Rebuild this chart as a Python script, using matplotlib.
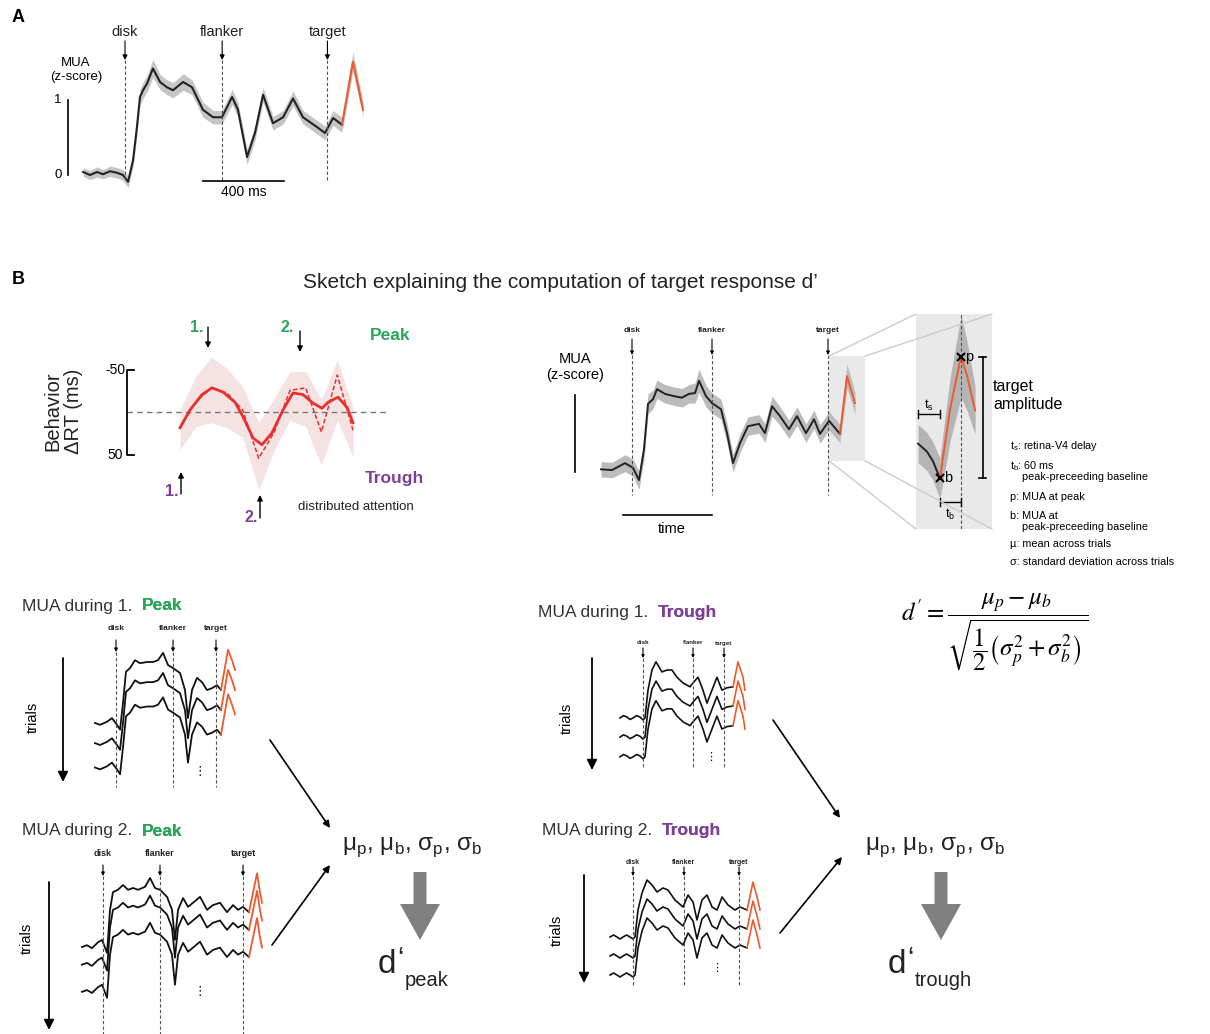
import numpy as np
import matplotlib.pyplot as plt
import matplotlib.transforms as mtransforms
from matplotlib.patches import Rectangle, FancyArrow, FancyArrowPatch, ConnectionPatch

# ---------------- data ----------------
# A: mean MUA (z-score) vs time from disk onset (ms)
a_t = [-207, -173, -138, -109, -74, -40, -10, 15, 40, 59, 74, 89, 109, 138, 173, 207, 237, 287, 331,
       385, 435, 479, 529, 558, 603, 642, 682, 731, 781, 830, 879, 948, 988, 1028, 1072]
a_z = [0.04, 0.00, 0.04, 0.01, 0.05, 0.03, 0.00, -0.09, 0.20, 0.64, 1.04, 1.13, 1.22, 1.42, 1.24, 1.17, 1.13, 1.24, 1.17,
       0.87, 0.77, 0.77, 1.04, 0.87, 0.24, 0.56, 1.07, 0.69, 0.77, 1.02, 0.77, 0.64, 0.56, 0.76, 0.67]
a_sem = [0.06, 0.06, 0.07, 0.06, 0.07, 0.07, 0.07, 0.08, 0.09, 0.10, 0.10, 0.11, 0.11, 0.12, 0.10, 0.10, 0.10, 0.11, 0.10,
         0.10, 0.09, 0.09, 0.10, 0.10, 0.10, 0.10, 0.10, 0.09, 0.09, 0.10, 0.09, 0.09, 0.09, 0.10, 0.10]
a_tgt_t = [1072, 1126, 1176]
a_tgt_z = [0.67, 1.51, 0.87]
a_tgt_sem = [0.10, 0.13, 0.10]
a_events = [0, 480, 1000]
event_names = ['disk', 'flanker', 'target']

# B, behaviour: delta RT (ms) vs flanker-target time (ms)
beh_t = [0, 30, 66, 96, 129, 165, 189, 219, 246, 276, 309, 339, 369, 399, 426, 444, 474, 501, 519]
beh_rt = [18, -3, -21, -29, -24, -12, 5, 30, 38, 24, -3, -23, -21, -11, -5, -12, -18, -6, 12]
beh_raw_t = [0, 47, 94, 141, 188, 236, 283, 330, 377, 424, 472, 519]
beh_raw_rt = [18, -12, -29, -23, -3, 54, 23, -26, -29, 23, -44, 21]
beh_hi = [-3, -42, -65, -52, -30, 12, -17, -48, -48, -15, -62, -6]
beh_lo = [44, 17, 12, 18, 29, 91, 44, 9, 17, 62, 9, 52]

# B, sketch MUA
b_t = [-186, -120, -42, 6, 42, 72, 96, 126, 150, 198, 252, 300, 342, 378, 402, 444, 480,
       534, 570, 606, 648, 696, 762, 798, 840, 888, 942, 990, 1044, 1092, 1128, 1182, 1248]
b_z = [-0.03, -0.04, 0.05, -0.01, -0.17, 0.23, 0.82, 0.88, 1.01, 0.95, 0.92, 0.90, 0.95, 0.96, 1.12, 0.92, 0.83,
       0.75, 0.44, 0.05, 0.31, 0.53, 0.56, 0.44, 0.79, 0.66, 0.49, 0.66, 0.44, 0.62, 0.43, 0.60, 0.43]
b_sem = [0.10, 0.10, 0.11, 0.11, 0.12, 0.13, 0.13, 0.12, 0.12, 0.12, 0.12, 0.12, 0.12, 0.13, 0.15, 0.14, 0.13,
         0.13, 0.13, 0.12, 0.12, 0.12, 0.12, 0.12, 0.13, 0.12, 0.12, 0.12, 0.12, 0.12, 0.12, 0.12, 0.12]
b_tgt_t = [1248, 1290, 1338]
b_tgt_z = [0.43, 1.18, 0.83]
b_tgt_sem = [0.12, 0.16, 0.14]
b_events = [0, 480, 1176]
zoom_tlim = (1182, 1398)
zoom_zlim = (0.08, 1.44)

# zoomed view of target response
zm_t = [1188, 1213, 1230, 1250]
zm_z = [0.62, 0.57, 0.51, 0.40]
zm_sem = [0.12, 0.12, 0.12, 0.13]
zm_tgt_t = [1250, 1279, 1310, 1327, 1350]
zm_tgt_z = [0.40, 0.84, 1.17, 1.05, 0.83]
zm_tgt_sem = [0.13, 0.20, 0.26, 0.22, 0.15]

# single trials, MUA during 1. peak
p1_t = [-177, -135, -76, -34, 8, 34, 59, 84, 118, 160, 202, 261, 312, 354, 396, 438, 480,
        539, 581, 606, 640, 682, 724, 766, 808, 851, 884]
p1_z = [0, -0.03, 0.02, 0.08, -0.03, -0.11, 0.33, 0.84, 0.90, 1.03, 0.98, 1.00, 1.00, 1.03, 1.15, 0.95, 0.90,
        0.82, 0.54, 0.08, 0.54, 0.74, 0.67, 0.54, 0.57, 0.62, 0.54]
p1_tgt_t = [884, 943, 977, 1002]
p1_tgt_z = [0.54, 1.20, 1.03, 0.87]
p1_offs = [0, -0.33, -0.73]
p1_events = [0, 480, 842]

# MUA during 2. peak
p2_t = [-177, -135, -93, -42, -8, 34, 59, 84, 126, 168, 211, 253, 295, 354, 396, 438, 480,
        539, 581, 606, 632, 674, 716, 758, 817, 876, 926, 985, 1044, 1095, 1137, 1179, 1229]
p2_z = [0, 0.03, -0.02, 0.08, 0.12, -0.10, 0.63, 0.93, 0.97, 1.05, 0.97, 1.00, 0.97, 1.02, 1.17, 1.00, 0.97,
        0.85, 0.63, 0.12, 0.63, 0.83, 0.68, 0.75, 0.85, 0.63, 0.71, 0.75, 0.59, 0.71, 0.63, 0.68, 0.59]
p2_tgt_t = [1229, 1297, 1322, 1339]
p2_tgt_z = [0.59, 1.25, 0.92, 0.75]
p2_offs = [0, -0.30, -0.76]
p2_events = [0, 480, 1179]

# MUA during 1. trough
t1_t = [-221, -188, -154, -125, -96, -62, -29, 0, 19, 48, 86, 125, 182, 230, 278, 326, 384, 451, 480,
        528, 576, 614, 662, 710, 758, 806, 864]
t1_z = [0, 0.05, 0.02, -0.03, 0, 0.05, 0.02, -0.04, 0, 0.58, 1.0, 1.17, 0.96, 1.0, 1.0, 0.85, 0.73, 0.65, 0.73,
        0.85, 0.58, 0.31, 0.58, 0.85, 0.58, 0.63, 0.65]
t1_tgt_t = [864, 912, 960, 979]
t1_tgt_z = [0.65, 1.17, 0.85, 0.58]
t1_offs = [0, -0.40, -0.81]
t1_events = [0, 480, 778]

# MUA during 2. trough
t2_t = [-216, -183, -151, -122, -94, -60, -28, 0, 19, 47, 85, 132, 179, 226, 282, 329, 395, 471, 518, 565,
        602, 649, 696, 744, 791, 838, 894, 960, 1007, 1073]
t2_z = [0, 0.04, 0.0, -0.04, 0, 0.04, 0.0, -0.04, 0, 0.54, 0.88, 1.14, 1.04, 0.90, 0.98, 0.94, 0.74, 0.60, 0.84, 0.70,
        0.34, 0.74, 0.84, 0.60, 0.54, 0.80, 0.64, 0.54, 0.60, 0.54]
t2_tgt_t = [1073, 1129, 1167, 1195]
t2_tgt_z = [0.54, 1.10, 0.80, 0.54]
t2_offs = [0, -0.38, -0.76]
t2_events = [0, 480, 998]

# ---------------- figure ----------------
plt.rcParams['font.family'] = ['Liberation Sans', 'DejaVu Sans']
plt.rcParams['lines.solid_joinstyle'] = 'round'

W, H = 1210, 1034
fig = plt.figure(figsize=(W / 100, H / 100), dpi=100)
# pixel coordinates, origin top-left
PX = mtransforms.Affine2D().scale(1.0 / W, -1.0 / H).translate(0, 1) + fig.transFigure

GREEN = '#2aa55a'
PURPLE = '#7e3f98'
ORANGE = '#ee5a2b'
RED = '#e8302f'
DARK = '#333333'


def txt(x, y, s, **kw):
    kw.setdefault('ha', 'center')
    kw.setdefault('va', 'center')
    return fig.text(x, y, s, transform=PX, **kw)


def arrow(x0, y0, x1, y1, lw=1.0, ms=9, color='k'):
    fig.add_artist(FancyArrowPatch((x0, y0), (x1, y1), transform=PX, arrowstyle='-|>',
                                   mutation_scale=ms, lw=lw, color=color, shrinkA=0, shrinkB=0))


def line(xs, ys, **kw):
    fig.add_artist(plt.Line2D(xs, ys, transform=PX, **kw))


def panel(x0, x1, y0, y1, xlim, ylim):
    ax = fig.add_axes([x0 / W, 1 - y1 / H, (x1 - x0) / W, (y1 - y0) / H])
    ax.set_xlim(*xlim)
    ax.set_ylim(*ylim)
    ax.axis('off')
    return ax


def trace_panel(x0, x1, y0, y1, xd, ms_px, yb, px_z):
    # xd: pixel of time 0, yb: pixel of z = 0
    return panel(x0, x1, y0, y1, ((x0 - xd) * ms_px, (x1 - xd) * ms_px),
                 ((yb - y1) / px_z, (yb - y0) / px_z))


def mark_events(ax, times, ylab, ya0, ya1, yend, fs, ms=6, bold=False):
    tr = mtransforms.blended_transform_factory(ax.transData, PX)
    for t, n in zip(times, event_names):
        ax.text(t, ylab, n, transform=tr, ha='center', va='center', fontsize=fs, clip_on=False,
                fontweight='bold' if bold else 'normal', color='#222222')
        ax.annotate('', xy=(t, ya1), xytext=(t, ya0), xycoords=tr, textcoords=tr,
                    arrowprops=dict(arrowstyle='-|>', lw=0.8, color='k', mutation_scale=ms,
                                    shrinkA=0, shrinkB=0), annotation_clip=False)
        ax.plot([t, t], [ya1, yend], transform=tr, color='#555555', lw=0.8,
                ls=(0, (3, 2)), clip_on=False)


def draw_mean(ax, t, z, sem, t2, z2, sem2, band='#c6c6c6', lw=1.5):
    t, z, sem = np.array(t), np.array(z), np.array(sem)
    t2, z2, sem2 = np.array(t2), np.array(z2), np.array(sem2)
    ax.fill_between(t, z - sem, z + sem, color=band, lw=0)
    ax.fill_between(t2, z2 - sem2, z2 + sem2, color=band, lw=0)
    ax.plot(t, z, color='#222222', lw=lw)
    ax.plot(t2, z2, color=ORANGE, lw=lw)


def draw_trials(ax, t, z, t2, z2, offs, lw=1.3):
    for o in offs:
        ax.plot(t, np.array(z) + o, color='#111111', lw=lw)
        ax.plot(t2, np.array(z2) + o, color=ORANGE, lw=lw)


def title2(x, y, first, second, color):
    t1 = txt(x, y, first, ha='left', fontsize=12.5, color=DARK)
    ann = plt.annotate(second, xy=(1, 0.5), xycoords=t1, xytext=(7, 0), textcoords='offset points',
                       ha='left', va='center', fontsize=12.5, color=color, fontweight='bold')
    fig.add_artist(ann)


# ----- panel A -----
txt(18, 18, 'A', fontsize=13, fontweight='bold')
axA = trace_panel(60, 370, 20, 200, 125, 4.94, 175, 75)
draw_mean(axA, a_t, a_z, a_sem, a_tgt_t, a_tgt_z, a_tgt_sem)
mark_events(axA, a_events, 32, 41, 60, 180, 10.5, ms=7)
line([68, 68], [100, 175], color='k', lw=1.2)
txt(58, 100, '1', fontsize=9.5)
txt(58, 175, '0', fontsize=9.5)
txt(76, 70, 'MUA\n(z-score)', fontsize=9.5, linespacing=1.2)
trA = mtransforms.blended_transform_factory(axA.transData, PX)
axA.plot([385, 785], [181, 181], color='k', lw=1.2, transform=trA, clip_on=False)
axA.text(585, 192, '400 ms', transform=trA, ha='center', va='center', fontsize=10)

# ----- panel B title -----
txt(18, 280, 'B', fontsize=13, fontweight='bold')
txt(560, 282, 'Sketch explaining the computation of target response d\u2019', fontsize=15, color='#222222')

# ----- behaviour -----
axBeh = panel(100, 400, 320, 520, (-240, 660), (126.5, -108.8))
axBeh.fill_between(beh_raw_t, beh_hi, beh_lo, color='#f5e3e3', lw=0)
axBeh.plot([-159, 624], [0, 0], color='#777777', lw=1, ls=(0, (4, 3)))
axBeh.plot(beh_raw_t, beh_raw_rt, color=RED, lw=1.1, ls=(0, (3, 1.5)))
axBeh.plot(beh_t, beh_rt, color=RED, lw=2)
axBeh.plot([-138, -159, -159, -138], [-50, -50, 50, 50], color='k', lw=1.3)
axBeh.text(-195, -50, '-50', ha='center', va='center', fontsize=10)
axBeh.text(-195, 50, '50', ha='center', va='center', fontsize=10)
txt(63, 411, 'Behavior\n\u0394RT (ms)', fontsize=14.5, rotation=90, linespacing=1.1, color='#222222')
txt(197, 328, '1.', fontsize=11.5, color=GREEN, fontweight='bold')
arrow(208, 327, 208, 348, ms=8)
txt(287, 328, '2.', fontsize=11.5, color=GREEN, fontweight='bold')
arrow(300, 331, 300, 352, ms=8)
txt(390, 336, 'Peak', fontsize=12.5, color=GREEN, fontweight='bold')
txt(394, 478, 'Trough', fontsize=12.5, color=PURPLE, fontweight='bold')
txt(172, 491, '1.', fontsize=11.5, color=PURPLE, fontweight='bold')
arrow(181, 494, 181, 472, ms=8)
txt(251, 517, '2.', fontsize=11.5, color=PURPLE, fontweight='bold')
arrow(260, 518, 260, 495, ms=8)
txt(356, 507, 'distributed attention', fontsize=9.5, color='#222222')

# ----- sketch MUA -----
axB = trace_panel(560, 880, 315, 545, 632, 6, 467, 77)
axB.add_patch(Rectangle((zoom_tlim[0], zoom_zlim[0]), zoom_tlim[1] - zoom_tlim[0],
                        zoom_zlim[1] - zoom_zlim[0], fc='#e9e9e9', ec='none', zorder=0))
draw_mean(axB, b_t, b_z, b_sem, b_tgt_t, b_tgt_z, b_tgt_sem, band='#bcbcbc', lw=1.4)
mark_events(axB, b_events, 331, 339, 355, 495, 6, ms=5, bold=True)
line([575, 575], [395, 472], color='k', lw=1.2)
txt(575, 367, 'MUA\n(z-score)', fontsize=10.5, linespacing=1.2)
trB = mtransforms.blended_transform_factory(axB.transData, PX)
axB.plot([-54, 480], [515, 515], color='k', lw=1.2, transform=trB, clip_on=False)
axB.text(240, 529, 'time', transform=trB, ha='center', va='center', fontsize=10.5)

# zoomed target response
axZ = panel(916, 992, 314, 529, zoom_tlim, zoom_zlim)
axZ.add_patch(Rectangle((zoom_tlim[0], zoom_zlim[0]), zoom_tlim[1] - zoom_tlim[0],
                        zoom_zlim[1] - zoom_zlim[0], fc='#e9e9e9', ec='none', zorder=0))
draw_mean(axZ, zm_t, zm_z, zm_sem, zm_tgt_t, zm_tgt_z, zm_tgt_sem, band='#b4b4b4', lw=1.4)
axZ.plot([1310, 1310], [zoom_zlim[0], zoom_zlim[1]], color='#555555', lw=0.8, ls=(0, (3, 2)))
axZ.plot([1250, 1310], [0.40, 1.17], 'kx', ms=6, mew=1.5)
axZ.text(1262, 0.40, 'b', ha='left', va='center', fontsize=10.5)
axZ.text(1322, 1.17, 'p', ha='left', va='center', fontsize=10.5)
for xi in [0, 1]:
    for yi in [0, 1]:
        fig.add_artist(ConnectionPatch(xyA=(zoom_tlim[xi], zoom_zlim[yi]), coordsA=axB.transData,
                                       xyB=(zoom_tlim[xi], zoom_zlim[yi]), coordsB=axZ.transData,
                                       color='#cccccc', lw=1))
trZ = mtransforms.blended_transform_factory(axZ.transData, PX)
# target amplitude bar
axZ.plot([1372, 1372], [0.40, 1.17], color='k', lw=1.2, clip_on=False)
axZ.plot([1362, 1382], [0.40, 0.40], color='k', lw=1.2, clip_on=False)
axZ.plot([1362, 1382], [1.17, 1.17], color='k', lw=1.2, clip_on=False)
txt(993, 396, 'target\namplitude', ha='left', fontsize=11.5, linespacing=1.25)
# t_s and t_b brackets
axZ.plot([1188, 1250], [414, 414], color='k', lw=1, transform=trZ, clip_on=False)
axZ.plot([1188, 1188], [410, 418], color='k', lw=1, transform=trZ, clip_on=False)
axZ.plot([1250, 1250], [410, 418], color='k', lw=1, transform=trZ, clip_on=False)
axZ.text(1219, 405, 't$_\\mathregular{s}$', transform=trZ, ha='center', va='center', fontsize=9)
axZ.plot([1250, 1310], [502, 502], color='k', lw=1, transform=trZ, clip_on=False)
axZ.plot([1250, 1250], [498, 506], color='k', lw=1, transform=trZ, clip_on=False)
axZ.plot([1310, 1310], [498, 506], color='k', lw=1, transform=trZ, clip_on=False)
axZ.text(1280, 514, 't$_\\mathregular{b}$', transform=trZ, ha='center', va='center', fontsize=9)

legend_lines = [
    (1010, 446, 't$_\\mathregular{s}$: retina-V4 delay'),
    (1010, 466, 't$_\\mathregular{b}$: 60 ms'),
    (1022, 477, 'peak-preceeding baseline'),
    (1010, 497, 'p: MUA at peak'),
    (1010, 516, 'b: MUA at'),
    (1022, 527, 'peak-preceeding baseline'),
    (1010, 544, '\u00b5: mean across trials'),
    (1010, 562, '\u03c3: standard deviation across trials'),
]
for x, y, s in legend_lines:
    txt(x, y, s, ha='left', fontsize=7.8)

# formula
txt(995, 632, r"$d' = \dfrac{\mu_p - \mu_b}{\sqrt{\dfrac{1}{2}\left(\sigma_p^2 + \sigma_b^2\right)}}$",
    fontsize=18, math_fontfamily='stix')

# ----- single-trial panels -----
title2(22, 606, 'MUA during 1.', 'Peak', GREEN)
ax1 = trace_panel(75, 250, 640, 795, 116, 8.42, 723, 61)
draw_trials(ax1, p1_t, p1_z, p1_tgt_t, p1_tgt_z, p1_offs)
mark_events(ax1, p1_events, 629, 640, 652, 787, 6, ms=5, bold=True)
arrow(63, 658, 63, 782, lw=1.3, ms=15)
txt(33, 717, 'trials', fontsize=10.5, rotation=90)
txt(200, 771, '\u22ee', fontsize=9, family=['DejaVu Sans'])

title2(22, 831, 'MUA during 2.', 'Peak', GREEN)
ax2 = trace_panel(65, 275, 860, 1034, 103, 8.42, 947, 59)
draw_trials(ax2, p2_t, p2_z, p2_tgt_t, p2_tgt_z, p2_offs)
mark_events(ax2, p2_events, 853, 865, 876, 1034, 6.5, ms=5, bold=True)
arrow(49, 882, 49, 1030, lw=1.3, ms=15)
txt(27, 938, 'trials', fontsize=10.5, rotation=90)
txt(200, 991, '\u22ee', fontsize=9, family=['DejaVu Sans'])

title2(538, 613, 'MUA during 1.', 'Trough', PURPLE)
ax3 = trace_panel(600, 765, 640, 785, 643, 9.6, 718, 48)
draw_trials(ax3, t1_t, t1_z, t1_tgt_t, t1_tgt_z, t1_offs, lw=1.2)
mark_events(ax3, t1_events, 643, 648, 658, 767, 4.5, ms=4, bold=True)
arrow(592, 658, 592, 770, lw=1.3, ms=15)
txt(567, 718, 'trials', fontsize=10.5, rotation=90)
txt(711, 757, '\u22ee', fontsize=8, family=['DejaVu Sans'])

title2(542, 830, 'MUA during 2.', 'Trough', PURPLE)
ax4 = trace_panel(600, 780, 860, 1000, 633, 9.41, 937, 50)
draw_trials(ax4, t2_t, t2_z, t2_tgt_t, t2_tgt_z, t2_offs, lw=1.2)
mark_events(ax4, t2_events, 862, 867, 876, 985, 5, ms=4, bold=True)
arrow(584, 875, 584, 983, lw=1.3, ms=15)
txt(557, 930, 'trials', fontsize=10.5, rotation=90)
txt(717, 968, '\u22ee', fontsize=8, family=['DejaVu Sans'])

# ----- combining arrows and d' -----
mu_str = ('\u03bc$_\\mathregular{p}$, \u03bc$_\\mathregular{b}$, '
          '\u03c3$_\\mathregular{p}$, \u03c3$_\\mathregular{b}$')
for x_arr, x_mu, x_d, sub, arr_pts in [
        (420, 342, 378, 'peak', [(270, 740, 330, 828), (272, 945, 330, 865)]),
        (941, 865, 888, 'trough', [(773, 720, 840, 818), (780, 933, 842, 857)])]:
    for x0, y0, x1, y1 in arr_pts:
        arrow(x0, y0, x1, y1, lw=1.2, ms=10)
    txt(x_mu, 847, mu_str, ha='left', fontsize=17.5, color='#222222')
    fig.add_artist(FancyArrow(x_arr, 872, 0, 68, width=13, head_width=40, head_length=36,
                              length_includes_head=True, transform=PX, color='#808080', lw=0))
    txt(x_d, 973, 'd', ha='left', va='baseline', fontsize=24, color='#222222')
    txt(x_d + 19, 966, '\u2018', ha='left', va='baseline', fontsize=21, color='#222222')
    txt(x_d + 27, 986, sub, ha='left', va='baseline', fontsize=14.5, color='#222222')

fig.savefig('out.png', dpi=100)
